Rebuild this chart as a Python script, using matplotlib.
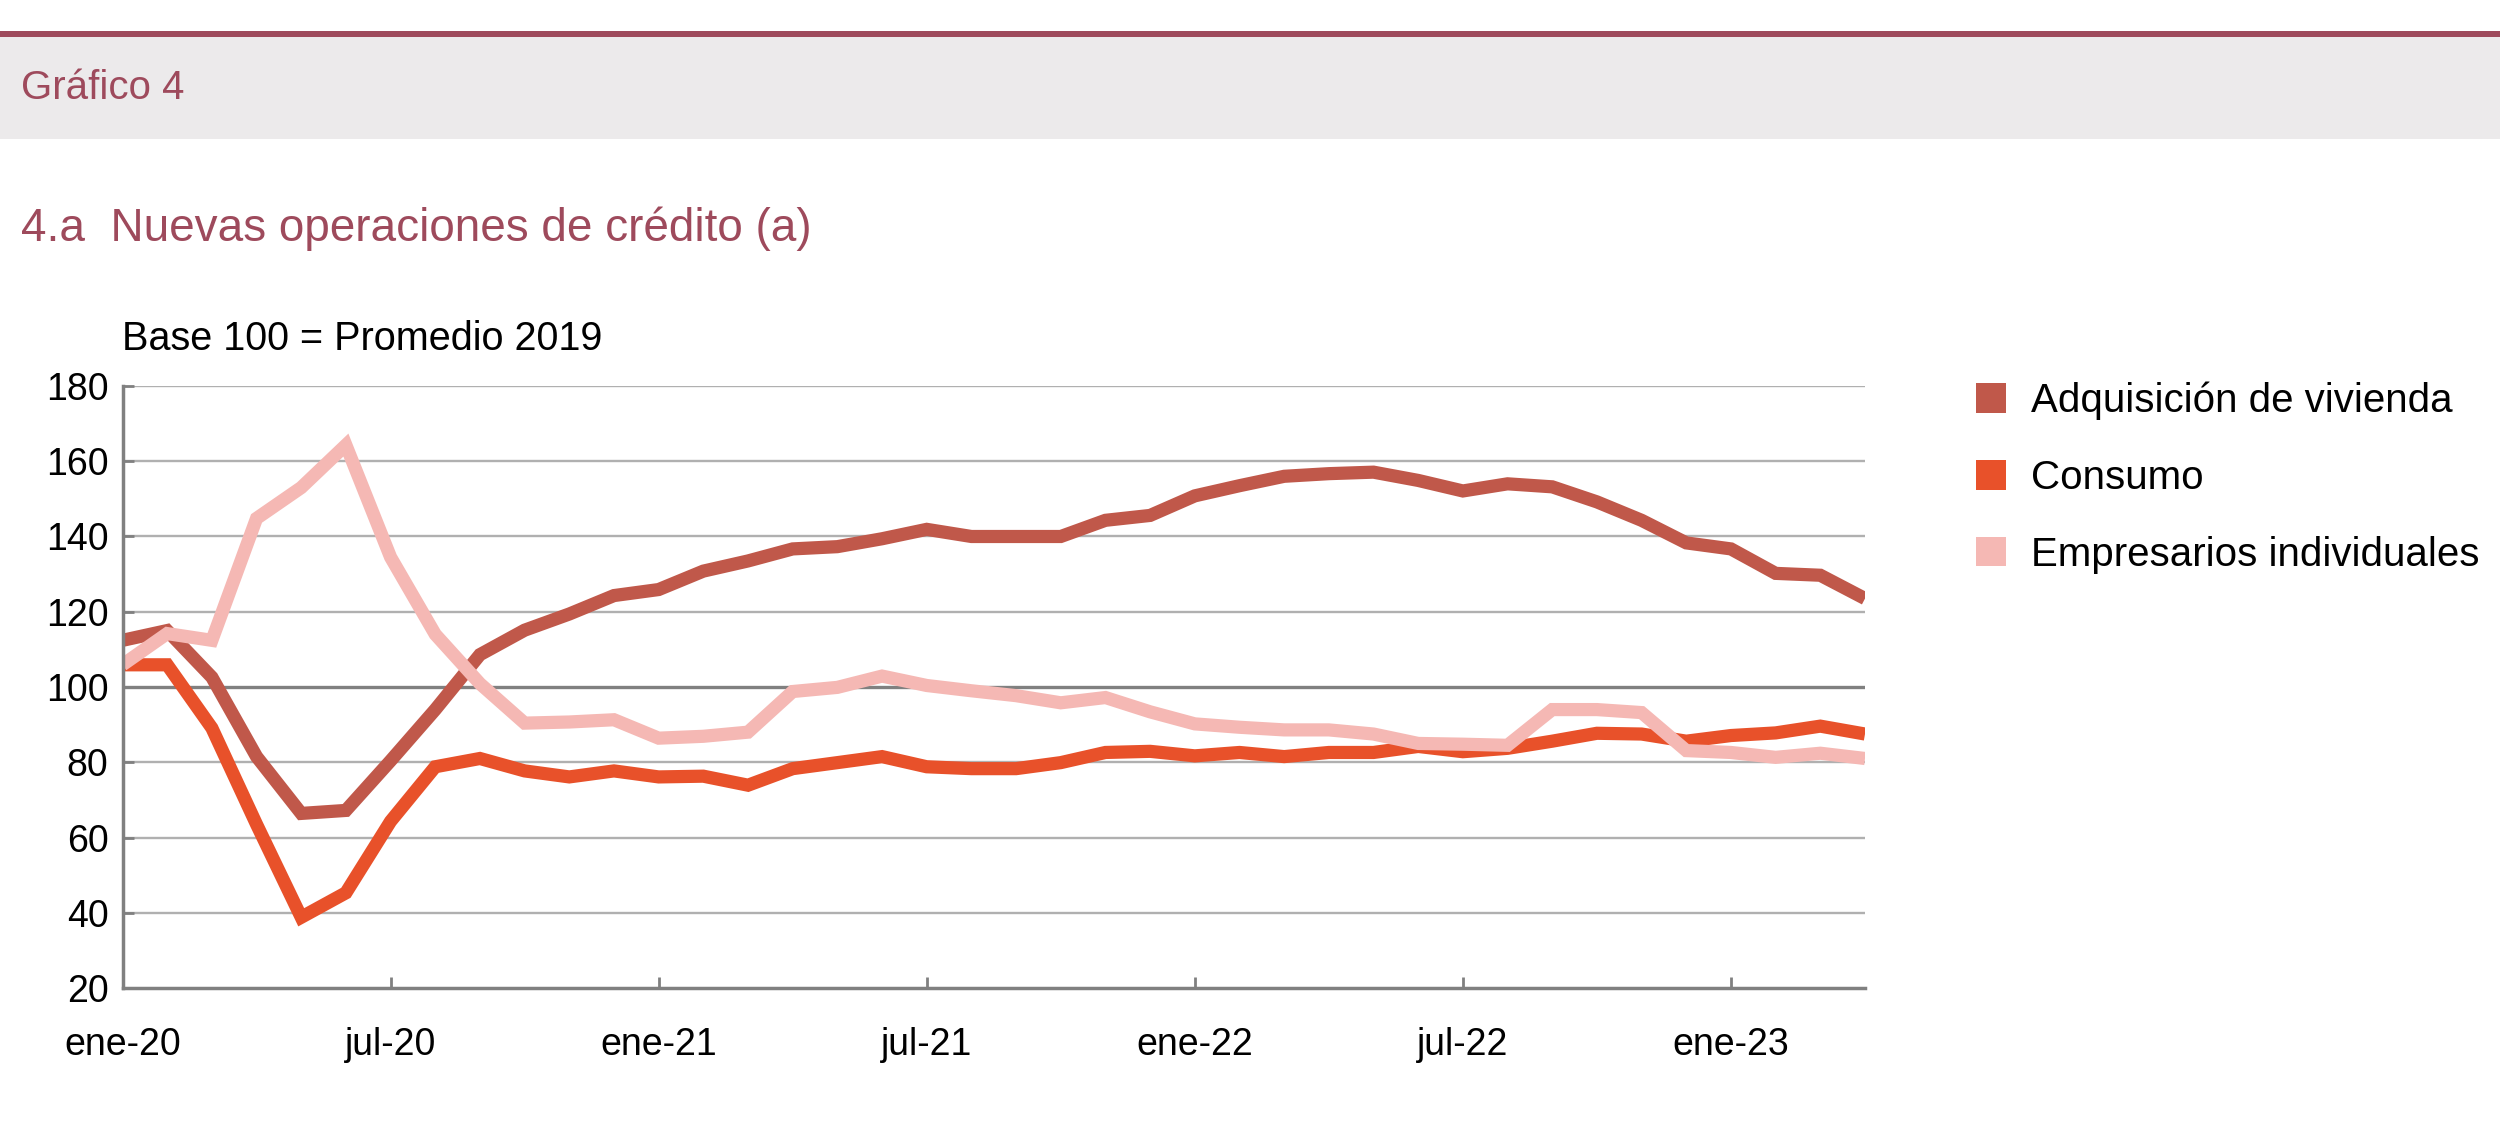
import matplotlib
matplotlib.use("Agg")
import matplotlib.pyplot as plt
from matplotlib.patches import Patch, Rectangle

plt.rcParams["font.family"] = ["Liberation Sans", "DejaVu Sans"]

# monthly series, ene-20 .. abr-23
months = list(range(40))
tick_pos = [0, 6, 12, 18, 24, 30, 36]
tick_labels = ["ene-20", "jul-20", "ene-21", "jul-21", "ene-22", "jul-22", "ene-23"]

vivienda = [112.4, 115.0, 102.6, 81.5, 66.4, 67.2, 80.4, 94.0, 108.6, 115.1,
            119.4, 124.3, 125.9, 130.8, 133.5, 136.7, 137.3, 139.4, 141.9, 140.0,
            140.0, 140.0, 144.3, 145.6, 150.8, 153.5, 156.0, 156.7, 157.1, 154.9,
            152.1, 154.0, 153.2, 149.2, 144.3, 138.3, 136.7, 130.2, 129.7, 123.5]
consumo = [105.9, 105.9, 89.1, 63.5, 38.8, 45.3, 64.3, 78.8, 81.0, 77.7,
           76.1, 77.7, 76.1, 76.3, 73.9, 78.3, 79.9, 81.5, 78.8, 78.3,
           78.3, 79.9, 82.6, 82.9, 81.7, 82.6, 81.5, 82.6, 82.6, 84.2,
           82.8, 83.7, 85.6, 87.7, 87.5, 85.6, 87.1, 87.8, 89.6, 87.5]
empresarios = [105.9, 114.2, 112.4, 144.8, 153.0, 164.3, 134.5, 114.0, 100.9, 90.4,
               90.7, 91.3, 86.4, 86.9, 88.0, 98.8, 99.9, 102.9, 100.4, 99.0,
               97.7, 95.8, 97.2, 93.4, 90.2, 89.3, 88.6, 88.6, 87.5, 85.0,
               84.8, 84.5, 94.0, 94.0, 93.2, 83.1, 82.6, 81.3, 82.4, 81.0]

series_names = ["Adquisición de vivienda", "Consumo", "Empresarios individuales"]
series_colors = ["#C0584A", "#E8512A", "#F5B8B4"]
maroon = "#9E4A5C"

fig = plt.figure(figsize=(25, 11.43), dpi=100)

# header band
fig.add_artist(Rectangle((0, 1 - 139 / 1143), 1, 104 / 1143, transform=fig.transFigure,
                         facecolor="#ECEAEB", edgecolor="none"))
fig.add_artist(Rectangle((0, 1 - 37 / 1143), 1, 6 / 1143, transform=fig.transFigure,
                         facecolor=maroon, edgecolor="none"))
fig.text(0.0085, 1 - 88 / 1143, "Gráfico 4", color=maroon, fontsize=29, va="center", ha="left")
fig.text(0.0085, 1 - 229 / 1143, "4.a  Nuevas operaciones de crédito (a)", color=maroon,
         fontsize=33, va="center", ha="left")

ax = fig.add_axes([0.049, 0.1356, 0.697, 0.5267])
for vals, col in zip([vivienda, consumo, empresarios], series_colors):
    ax.plot(months, vals, color=col, lw=9.5, solid_joinstyle="miter", solid_capstyle="butt")

ax.set_xlim(0, 39)
ax.set_ylim(20, 180)
ax.set_yticks(range(20, 181, 20))
ax.set_xticks(tick_pos)
ax.set_xticklabels(tick_labels)

for y in range(40, 181, 20):
    ax.axhline(y, color="#808080" if y == 100 else "#B0B0B0",
               lw=2.4 if y == 100 else 1.7, zorder=0)

for side in ["top", "right"]:
    ax.spines[side].set_visible(False)
for side in ["left", "bottom"]:
    ax.spines[side].set_color("#808080")
    ax.spines[side].set_linewidth(2.5)

ax.tick_params(axis="y", direction="in", length=8, width=2, color="#808080",
               labelsize=27, pad=10)
ax.tick_params(axis="x", direction="in", length=8, width=2, color="#808080",
               labelsize=27, pad=28)

fig.text(0.049, 1 - 339 / 1143, "Base 100 = Promedio 2019", fontsize=28.5,
         va="center", ha="left")

handles = [Patch(facecolor=c, edgecolor="none") for c in series_colors]
fig.legend(handles, series_names, loc="upper left", bbox_to_anchor=(0.7905, 0.666),
           frameon=False, fontsize=29, handlelength=0.75, handleheight=0.75,
           handletextpad=0.62, labelspacing=0.96, borderpad=0, borderaxespad=0)

fig.savefig("out.png", dpi=100)
